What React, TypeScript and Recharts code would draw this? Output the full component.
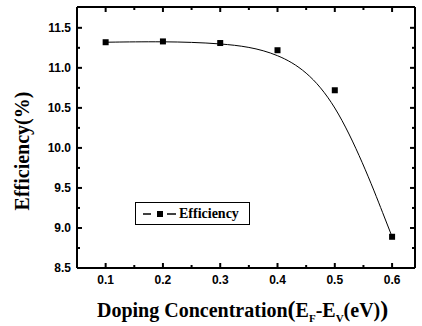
import { LineChart, Line, XAxis, YAxis } from 'recharts'

const dopingLevels = [0.1, 0.2, 0.3, 0.4, 0.5, 0.6]
const efficiency = [11.32, 11.33, 11.31, 11.22, 10.72, 8.89]

const xTicks = [0.1, 0.15, 0.2, 0.25, 0.3, 0.35, 0.4, 0.45, 0.5, 0.55, 0.6]
const xLabels = ['0.1', '0.2', '0.3', '0.4', '0.5', '0.6']
const yTicks = [8.5, 8.75, 9, 9.25, 9.5, 9.75, 10, 10.25, 10.5, 10.75, 11, 11.25, 11.5]
const yLabels = ['8.5', '9.0', '9.5', '10.0', '10.5', '11.0', '11.5']

const chartData = dopingLevels.map((x, i) => ({ x, eff: efficiency[i] }))

const TICK_FONT = '"Liberation Sans", Arial, sans-serif'
const TITLE_FONT = '"Liberation Serif", "Times New Roman", serif'

const isMajor = (v: number, labels: string[]) => labels.some((l) => Math.abs(parseFloat(l) - v) < 1e-6)

// bottom axis: tick points inward (up), label below
const BottomTick = ({ x, y, payload }: any) => {
  const major = isMajor(payload.value, xLabels)
  return (
    <g>
      <line x1={x} x2={x} y1={y} y2={y - (major ? 5 : 3)} stroke="#000" strokeWidth={2} />
      {major && (
        <text x={x} y={y + 16} textAnchor="middle" fontFamily={TICK_FONT} fontWeight="bold" fontSize={12} fill="#000">
          {payload.value.toFixed(1)}
        </text>
      )}
    </g>
  )
}

const TopTick = ({ x, y, payload }: any) => {
  const major = isMajor(payload.value, xLabels)
  return <line x1={x} x2={x} y1={y} y2={y + (major ? 5 : 3)} stroke="#000" strokeWidth={2} />
}

const LeftTick = ({ x, y, payload }: any) => {
  const major = isMajor(payload.value, yLabels)
  return (
    <g>
      <line x1={x} x2={x + (major ? 5 : 3)} y1={y} y2={y} stroke="#000" strokeWidth={2} />
      {major && (
        <text x={x - 6} y={y + 4} textAnchor="end" fontFamily={TICK_FONT} fontWeight="bold" fontSize={12} fill="#000">
          {payload.value.toFixed(1)}
        </text>
      )}
    </g>
  )
}

const RightTick = ({ x, y, payload }: any) => {
  const major = isMajor(payload.value, yLabels)
  return <line x1={x} x2={x - (major ? 5 : 3)} y1={y} y2={y} stroke="#000" strokeWidth={2} />
}

const SquareDot = ({ cx, cy }: any) => <rect x={cx - 3} y={cy - 3} width={6} height={6} fill="#000" />

const axisLine = { stroke: '#000', strokeWidth: 2 }

export default function App() {
  return (
    <div style={{ position: 'absolute', left: 0, top: 0, width: 422, height: 326, background: '#fff' }}>
      <LineChart width={422} height={326} data={chartData} margin={{ top: 6, right: 6, left: 37, bottom: 28 }}>
        <XAxis
          xAxisId="b"
          dataKey="x"
          type="number"
          domain={[0.05, 0.64]}
          ticks={xTicks}
          height={30}
          tickSize={0}
          tickMargin={0}
          tickLine={false}
          tick={<BottomTick />}
          axisLine={axisLine}
          interval={0}
          allowDataOverflow
        />
        <XAxis
          xAxisId="t"
          orientation="top"
          dataKey="x"
          type="number"
          domain={[0.05, 0.64]}
          ticks={xTicks}
          height={1}
          tickSize={0}
          tickMargin={0}
          tickLine={false}
          tick={<TopTick />}
          axisLine={axisLine}
          interval={0}
          allowDataOverflow
        />
        <YAxis
          yAxisId="l"
          type="number"
          domain={[8.5, 11.76]}
          ticks={yTicks}
          width={40}
          tickSize={0}
          tickMargin={0}
          tickLine={false}
          tick={<LeftTick />}
          axisLine={axisLine}
          interval={0}
          allowDataOverflow
        />
        <YAxis
          yAxisId="r"
          orientation="right"
          type="number"
          domain={[8.5, 11.76]}
          ticks={yTicks}
          width={1}
          tickSize={0}
          tickMargin={0}
          tickLine={false}
          tick={<RightTick />}
          axisLine={axisLine}
          interval={0}
          allowDataOverflow
        />
        <Line
          xAxisId="b"
          yAxisId="l"
          type="basis"
          dataKey="eff"
          name="Efficiency"
          stroke="#000"
          strokeWidth={1}
          dot={<SquareDot />}
          isAnimationActive={false}
        />
      </LineChart>
      {/* legend box */}
      <div
        style={{
          position: 'absolute',
          left: 135,
          top: 202,
          boxSizing: 'border-box',
          border: '1px solid #000',
          background: '#fff',
          width: 115,
          height: 23,
          display: 'flex',
          alignItems: 'center',
          fontFamily: TITLE_FONT,
          fontWeight: 'bold',
          fontSize: 14,
        }}
      >
        <svg width={42} height={21}>
          <line x1={7} x2={15} y1={11} y2={11} stroke="#000" strokeWidth={1.5} />
          <rect x={21} y={8} width={6} height={6} fill="#000" />
          <line x1={31} x2={40} y1={11} y2={11} stroke="#000" strokeWidth={1.5} />
        </svg>
        <span style={{ marginLeft: 1 }}>Efficiency</span>
      </div>
      <div
        style={{
          position: 'absolute',
          left: 97,
          top: 296,
          fontFamily: TITLE_FONT,
          fontWeight: 'bold',
          fontSize: 20,
          whiteSpace: 'nowrap',
        }}
      >
        Doping Concentration<span style={{ fontSize: 24 }}>(</span>E<sub style={{ fontSize: 11 }}>F</sub>-E<sub style={{ fontSize: 11 }}>V</sub>(eV)<span style={{ fontSize: 24 }}>)</span>
      </div>
      <div
        style={{
          position: 'absolute',
          left: 22,
          top: 151,
          transform: 'translate(-50%, -50%) rotate(-90deg)',
          fontFamily: TITLE_FONT,
          fontWeight: 'bold',
          fontSize: 20,
          whiteSpace: 'nowrap',
        }}
      >
        Efficiency(%)
      </div>
    </div>
  )
}
